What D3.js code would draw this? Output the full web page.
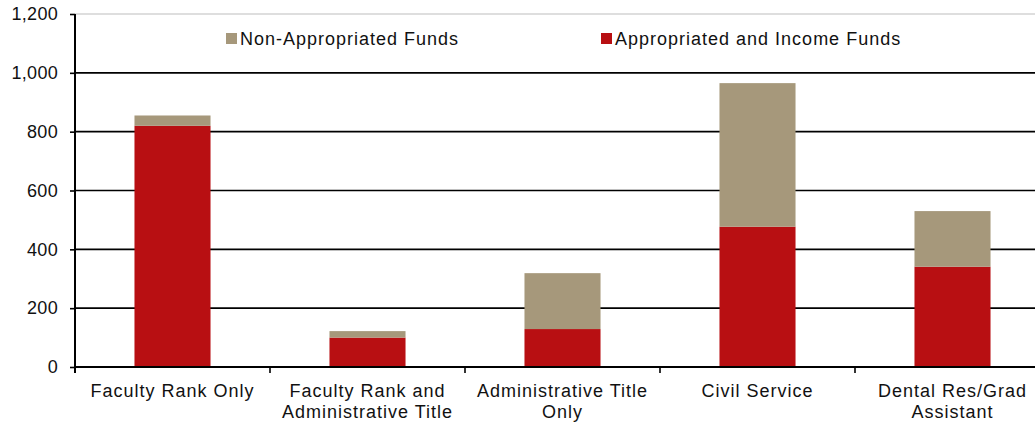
<!DOCTYPE html>
<html>
<head>
<meta charset="utf-8">
<script src="https://cdn.jsdelivr.net/npm/d3@7"></script>
<style>
  html, body { margin: 0; padding: 0; background: #fff; }
  svg { display: block; font-family: "Liberation Sans", Arial, sans-serif; }
  text { fill: #111; }
</style>
</head>
<body>
<svg id="chart" width="1035" height="423"></svg>
<script>
// Employee counts by appointment type and funding source
const categories = [
  ["Faculty Rank Only"],
  ["Faculty Rank and", "Administrative Title"],
  ["Administrative Title", "Only"],
  ["Civil Service"],
  ["Dental Res/Grad", "Assistant"]
];
const appropriated = [820, 100, 129, 477, 341];
const nonAppropriated = [35, 22, 190, 488, 189];
const yTicks = [0, 200, 400, 600, 800, 1000, 1200];
const seriesNames = ["Non-Appropriated Funds", "Appropriated and Income Funds"];
const seriesColors = { "Appropriated and Income Funds": "#b80f12", "Non-Appropriated Funds": "#a6987b" };

const svg = d3.select("#chart");
const plotLeft = 75, plotRight = 1050, plotTop = 14, plotBottom = 367;

const keys = categories.map(c => c.join(" "));
const x = d3.scaleBand().domain(keys).range([plotLeft, plotRight]).paddingInner(0.61).paddingOuter(0.305);
const y = d3.scaleLinear().domain([0, 1200]).range([plotBottom, plotTop]);

// Horizontal gridlines
svg.append("g").selectAll("line").data(yTicks.filter(v => v > 0)).join("line")
  .attr("x1", plotLeft).attr("x2", 1035)
  .attr("y1", d => y(d)).attr("y2", d => y(d))
  .attr("stroke", d => d === 1200 ? "#bdbdbd" : "#000")
  .attr("stroke-width", d => d === 1200 ? 1 : 1.6);

// Stacked bars
const rows = keys.map((k, i) => ({ key: k, "Appropriated and Income Funds": appropriated[i], "Non-Appropriated Funds": nonAppropriated[i] }));
const stack = d3.stack().keys(["Appropriated and Income Funds", "Non-Appropriated Funds"])(rows);
svg.append("g").selectAll("g").data(stack).join("g")
  .attr("fill", s => seriesColors[s.key])
  .selectAll("rect").data(s => s).join("rect")
  .attr("x", d => x(d.data.key))
  .attr("width", x.bandwidth())
  .attr("y", d => y(d[1]))
  .attr("height", d => y(d[0]) - y(d[1]));

// Y axis
const yAxis = d3.axisLeft(y).tickValues(yTicks).tickSize(5).tickPadding(12).tickFormat(d3.format(","));
const gy = svg.append("g").attr("transform", `translate(${plotLeft},0)`).call(yAxis);
gy.select(".domain").remove();
gy.selectAll(".tick line").attr("stroke", "#000").attr("stroke-width", 1.6);
gy.selectAll(".tick text").attr("font-size", 18).attr("fill", "#111")
  .attr("font-family", "Liberation Sans, Arial, sans-serif").attr("letter-spacing", 0.3);
svg.append("line").attr("x1", plotLeft).attr("x2", plotLeft).attr("y1", plotTop).attr("y2", plotBottom + 6)
  .attr("stroke", "#000").attr("stroke-width", 2);

// X axis baseline and category boundary ticks
svg.append("line").attr("x1", plotLeft).attr("x2", 1035).attr("y1", plotBottom).attr("y2", plotBottom)
  .attr("stroke", "#000").attr("stroke-width", 2);
const step = x.step();
const bounds = keys.map(k => x(k) + x.bandwidth() / 2 + step / 2);
svg.append("g").selectAll("line").data(bounds).join("line")
  .attr("x1", d => d).attr("x2", d => d).attr("y1", plotBottom).attr("y2", plotBottom + 6)
  .attr("stroke", "#000").attr("stroke-width", 1.6);

// Category labels
const labels = svg.append("g").selectAll("text").data(categories).join("text")
  .attr("text-anchor", "middle").attr("font-size", 18).attr("letter-spacing", 1.0)
  .attr("transform", (c, i) => `translate(${x(keys[i]) + x.bandwidth() / 2},397)`);
labels.selectAll("tspan").data(c => c).join("tspan")
  .attr("x", 0).attr("dy", (d, j) => j === 0 ? 0 : 21).text(d => d);

// Legend
const legendX = [226, 601];
const legend = svg.append("g").selectAll("g").data(seriesNames).join("g")
  .attr("transform", (d, i) => `translate(${legendX[i]},33)`);
legend.append("rect").attr("width", 11).attr("height", 11).attr("fill", d => seriesColors[d]);
legend.append("text").attr("x", 14).attr("y", 12).attr("font-size", 18).attr("letter-spacing", 1.0).text(d => d);
</script>
</body>
</html>
